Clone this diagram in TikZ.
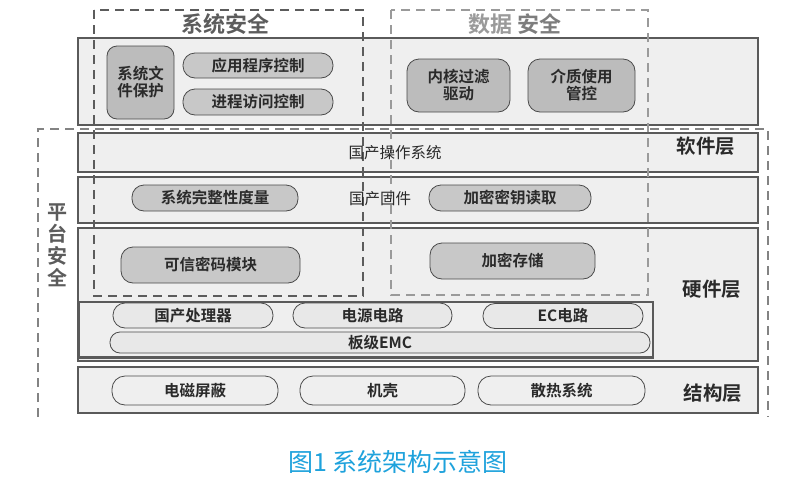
\documentclass[tikz,border=0pt]{standalone}
\usepackage{fontspec}
\setmainfont{Noto Sans CJK SC}[BoldFont={Noto Sans CJK SC Bold}]
\definecolor{layerfill}{HTML}{EFEFEF}
\definecolor{linegray}{HTML}{5A5A5A}
\definecolor{pillline}{HTML}{4A4A4A}
\definecolor{darkfill}{HTML}{BCBCBC}
\definecolor{midfill}{HTML}{C8C8C8}
\definecolor{lightfill}{HTML}{E8E8E8}
\definecolor{textdark}{HTML}{2A2A2A}
\definecolor{dashdark}{HTML}{5C5C5C}
\definecolor{dashlight}{HTML}{9A9A9A}
\definecolor{capblue}{HTML}{1EA2DC}
\begin{document}
\begin{tikzpicture}[x=1pt,y=-1pt,
  layer/.style={draw=linegray, fill=layerfill, line width=1.2pt, inner sep=0pt, minimum width=680pt},
  pill/.style={draw=pillline, fill=#1, line width=0.8pt, inner sep=0pt, align=center,
    font=\fontsize{15.5}{17}\selectfont\bfseries, text=textdark},
  pill/.default=midfill,
  secdash/.style={dash pattern=on 9pt off 6pt, line width=1.4pt},
  layername/.style={font=\fontsize{19.5}{21}\selectfont\bfseries, text=textdark},
  plain/.style={font=\fontsize{15.5}{17}\selectfont, text=textdark}
  ]
\useasboundingbox (0,0) rectangle (800,490);
\fill[white] (0,0) rectangle (800,490);

% layers
\node[layer, minimum height=87pt] (app) at (418,81.5) {};
\node[layer, minimum height=39pt] (soft) at (418,152.5) {};
\node[layer, minimum height=46pt] (firm) at (418,200) {};
\node[layer, minimum height=133pt] (hard) at (418,294.5) {};
\node[layer, minimum width=574pt, minimum height=56pt] (board) at (366,330) {};
\draw[linegray, line width=0.8pt] (board.south west) ++(0,-2.5) -- ++(574,0);
\node[layer, minimum height=46pt] (struct) at (418,390) {};

% security dashed regions
\draw[secdash, dashdark] (94,10) rectangle (363,296);
\draw[secdash, dashlight] (391,10) rectangle (648,295);
\draw[secdash, dashlight!85!black] (38,417) -- (38,129) -- (768,129) -- (768,417);

\node[font=\fontsize{22}{24}\selectfont\bfseries, text=dashdark] (tsys) at (225,24) {系统安全};
\node[font=\fontsize{22}{24}\selectfont\bfseries] (tdata) at (515,24) {\textcolor{dashlight}{数据} \textcolor{dashdark!80}{安全}};
\node[font=\fontsize{20}{22}\selectfont\bfseries, text=dashdark, align=center] (tplat) at (57,245) {平\\台\\安\\全};

% application layer
\node[pill=darkfill, rounded corners=10pt, minimum width=67pt, minimum height=73pt] (sysfile) at (140.5,82.5) {系统文\\件保护};
\node[pill, rounded corners=12pt, minimum width=150pt, minimum height=25pt] (appctl) at (258,65.5) {应用程序控制};
\node[pill, rounded corners=12pt, minimum width=150pt, minimum height=26pt] (procctl) at (258,102) {进程访问控制};
\node[pill=darkfill, rounded corners=12pt, minimum width=103pt, minimum height=53pt] (kernel) at (458.5,85.5) {内核过滤\\驱动};
\node[pill=darkfill, rounded corners=12pt, minimum width=107pt, minimum height=53pt] (media) at (581.5,85.5) {介质使用\\管控};

% software layer
\node[plain] (os) at (395,152.5) {国产操作系统};
\node[layername] (lsoft) at (706,146) {软件层};

% firmware row
\node[plain] (fw) at (380,199) {国产固件};
\node[pill, rounded corners=12pt, minimum width=166pt, minimum height=26pt] (integ) at (215,198) {系统完整性度量};
\node[pill, rounded corners=12pt, minimum width=162pt, minimum height=26pt] (keyread) at (510,198) {加密密钥读取};

% hardware layer
\node[pill, rounded corners=12pt, minimum width=179pt, minimum height=36pt] (tcm) at (210.5,265) {可信密码模块};
\node[pill, rounded corners=12pt, minimum width=165pt, minimum height=36pt] (encstore) at (512.5,261) {加密存储};
\node[layername] (lhard) at (712,289) {硬件层};
\node[pill=lightfill, rounded corners=12pt, minimum width=160pt, minimum height=25pt] (cpu) at (193,315.5) {国产处理器};
\node[pill=lightfill, rounded corners=12pt, minimum width=159pt, minimum height=25pt] (power) at (372.5,315.5) {电源电路};
\node[pill=lightfill, rounded corners=12pt, minimum width=160pt, minimum height=25pt] (ec) at (563,316) {EC电路};
\node[pill=lightfill, rounded corners=10pt, minimum width=540pt, minimum height=21pt] (emc) at (380,342.5) {板级EMC};

% structure layer
\node[pill=layerfill, rounded corners=13pt, minimum width=166pt, minimum height=29pt] (shield) at (195,390.5) {电磁屏蔽};
\node[pill=layerfill, rounded corners=13pt, minimum width=165pt, minimum height=29pt] (chassis) at (382.5,390.5) {机壳};
\node[pill=layerfill, rounded corners=13pt, minimum width=167pt, minimum height=29pt] (heat) at (561.5,390.5) {散热系统};
\node[layername] (lstruct) at (713,393) {结构层};

% caption
\node[font=\fontsize{25}{27}\selectfont, text=capblue] (cap) at (398,462) {图1 系统架构示意图};
\end{tikzpicture}
\end{document}
